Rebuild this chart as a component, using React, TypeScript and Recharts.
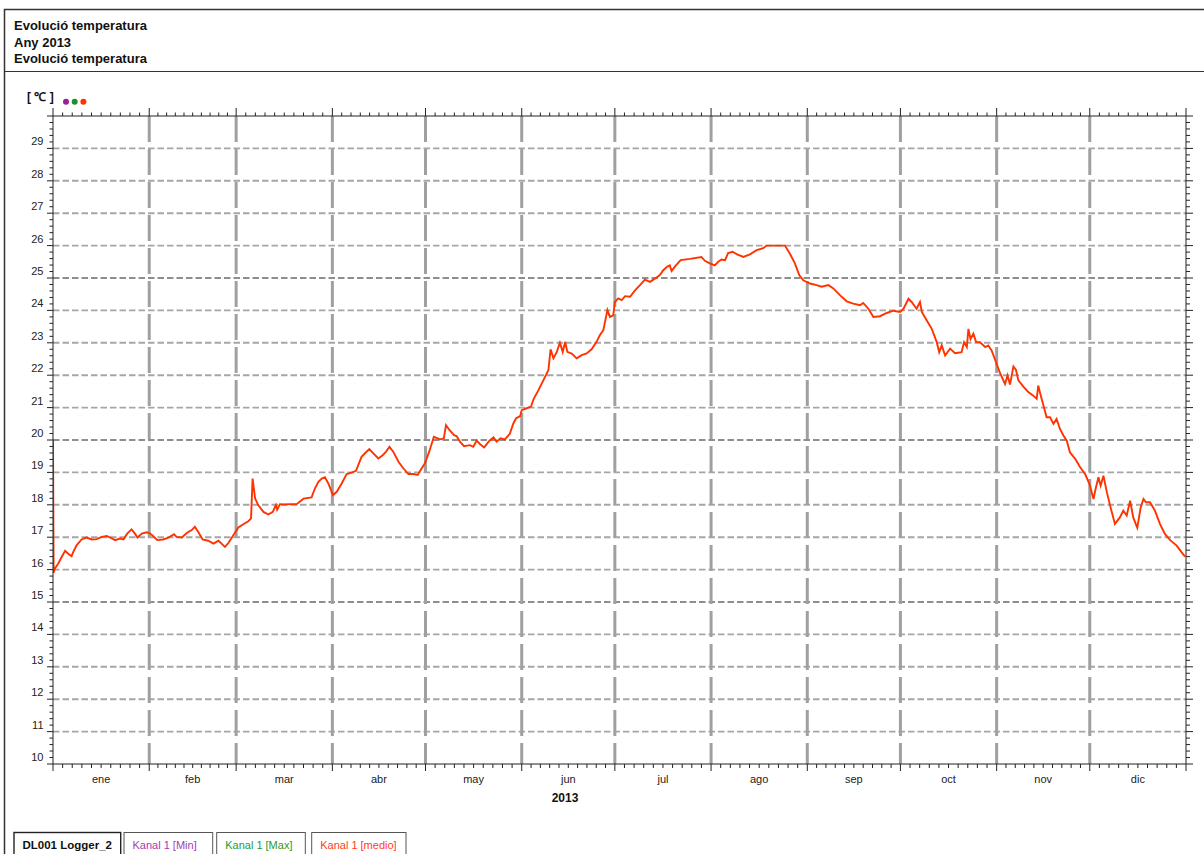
import React from 'react';
import { LineChart, Line, XAxis, YAxis, CartesianGrid } from 'recharts';

const FONT = '"Liberation Sans", Arial, Helvetica, sans-serif';

const titleLines = ['Evolució temperatura', 'Any 2013', 'Evolució temperatura'];
const monthNames = ['ene', 'feb', 'mar', 'abr', 'may', 'jun', 'jul', 'ago', 'sep', 'oct', 'nov', 'dic'];
const monthLengths = [31, 28, 31, 30, 31, 30, 31, 31, 30, 31, 30, 31];
const yearLabel = '2013';
const unitLabel = '[ ℃ ]';
const legendItems = ['DL001 Logger_2', 'Kanal 1 [Min]', 'Kanal 1 [Max]', 'Kanal 1 [medio]'];
const legendColors = ['#111111', '#a43bb3', '#2b9a2b', '#ff3b1f'];
const dotColors = ['#9a1f9a', '#1f8f2a', '#ff3300'];

// day of year (0..365) and mean temperature
const days = [
  0, 0.2, 0.6, 1.7, 2.8, 3.9, 4.9, 6.0, 6.4, 7.6, 9.2, 10.8, 12.5, 14.1, 15.7, 17.3, 18.4, 20.0, 21.6, 22.7,
  23.9, 25.3, 26.4, 27.2, 28.6, 30.2, 31.3, 32.3, 33.6, 35.5, 37.2, 39.0, 39.8, 41.5, 43.1, 44.7, 45.7, 46.8, 48.2, 50.0,
  51.7, 53.3, 54.3, 55.4, 56.5, 58.1, 59.7, 61.3, 62.9, 63.8, 64.3, 65.1, 66.1, 67.8, 69.4, 70.8, 71.8, 72.2, 73.1, 74.2,
  76.4, 78.5, 80.7, 83.3, 84.4, 85.5, 86.6, 87.6, 88.7, 90.2, 91.4, 93.0, 94.6, 96.2, 97.6, 99.4, 100.5, 101.9, 103.2, 104.8,
  106.2, 107.3, 108.4, 109.6, 111.3, 112.9, 114.5, 116.1, 117.5, 118.4, 119.8, 121.2, 122.7, 124.7, 125.9, 126.6, 127.7, 129.2, 130.0, 131.1,
  132.4, 134.3, 135.4, 136.5, 137.6, 138.9, 140.6, 141.9, 142.9, 144.2, 145.6, 147.2, 148.3, 149.2, 150.5, 151.0, 152.6, 154.0, 154.9, 156.4,
  158.0, 159.6, 160.3, 161.2, 162.3, 163.3, 164.2, 165.0, 165.7, 167.1, 168.7, 170.3, 171.9, 173.5, 175.1, 176.2, 177.3, 178.6, 179.4, 180.5,
  181.0, 182.1, 183.2, 184.3, 185.9, 187.5, 189.1, 190.7, 192.3, 193.9, 195.5, 196.6, 197.7, 198.7, 199.3, 200.4, 202.2, 205.2, 208.9, 210.0,
  211.6, 213.2, 214.3, 215.4, 216.5, 217.5, 218.9, 220.4, 222.4, 224.5, 226.7, 228.8, 229.9, 233.1, 235.8, 237.4, 239.0, 240.4, 241.7, 243.9,
  246.0, 247.6, 249.8, 251.4, 253.5, 255.7, 257.8, 260.0, 261.0, 262.6, 264.3, 266.4, 268.6, 270.7, 272.9, 274.0, 275.6, 276.6, 278.2, 279.3,
  279.9, 281.5, 283.1, 284.7, 285.5, 286.3, 287.4, 289.0, 290.6, 292.7, 293.5, 294.4, 294.9, 295.6, 296.5, 297.4, 298.6, 300.3, 301.3, 302.4,
  303.8, 305.1, 306.7, 307.5, 308.3, 309.4, 310.2, 311.0, 312.6, 314.2, 315.8, 316.9, 317.4, 318.2, 319.1, 320.1, 321.2, 322.3, 323.3, 324.4,
  325.5, 326.6, 327.6, 329.3, 330.9, 332.5, 333.9, 335.2, 336.0, 336.8, 337.5, 338.4, 339.5, 340.7, 342.1, 343.7, 344.8, 345.9, 347.0, 348.0,
  349.3, 350.4, 351.3, 352.1, 353.4, 355.0, 356.6, 358.2, 359.9, 362.0, 363.6, 364.7,
];
const temps = [
  20.0, 15.9, 16.03, 16.19, 16.39, 16.58, 16.49, 16.41, 16.52, 16.75, 16.93, 16.99, 16.93, 16.94, 17.01, 17.04, 16.99, 16.91, 16.96, 16.93,
  17.11, 17.24, 17.11, 16.99, 17.11, 17.15, 17.11, 17.03, 16.91, 16.93, 16.99, 17.09, 17.01, 16.99, 17.13, 17.22, 17.32, 17.16, 16.93, 16.89,
  16.8, 16.89, 16.8, 16.7, 16.82, 17.06, 17.3, 17.4, 17.49, 17.58, 18.81, 18.2, 17.99, 17.78, 17.7, 17.78, 17.99, 17.85, 18.02, 18.01,
  18.02, 18.02, 18.19, 18.23, 18.51, 18.71, 18.81, 18.85, 18.66, 18.3, 18.4, 18.66, 18.95, 18.99, 19.05, 19.48, 19.59, 19.72, 19.59, 19.43,
  19.53, 19.64, 19.79, 19.64, 19.33, 19.12, 18.95, 18.95, 18.92, 19.07, 19.28, 19.64, 20.1, 20.02, 20.05, 20.46, 20.31, 20.15, 20.12, 19.95,
  19.81, 19.84, 19.79, 19.98, 19.87, 19.77, 19.98, 20.08, 19.95, 20.05, 20.02, 20.2, 20.51, 20.67, 20.74, 20.92, 20.98, 21.03, 21.28, 21.54,
  21.85, 22.16, 22.8, 22.52, 22.72, 23.0, 22.72, 23.03, 22.72, 22.67, 22.52, 22.62, 22.67, 22.8, 23.03, 23.24, 23.39, 24.01, 23.8, 23.85,
  24.26, 24.37, 24.32, 24.44, 24.42, 24.62, 24.78, 24.95, 24.88, 24.98, 25.09, 25.24, 25.34, 25.39, 25.22, 25.36, 25.55, 25.59, 25.65, 25.53,
  25.45, 25.39, 25.5, 25.57, 25.55, 25.77, 25.81, 25.73, 25.65, 25.73, 25.86, 25.92, 26.0, 26.0, 26.0, 25.75, 25.45, 25.09, 24.93, 24.83,
  24.78, 24.73, 24.78, 24.68, 24.47, 24.28, 24.21, 24.16, 24.23, 24.06, 23.8, 23.82, 23.92, 23.99, 23.95, 24.05, 24.36, 24.26, 24.05, 24.26,
  23.95, 23.69, 23.43, 23.02, 22.71, 22.92, 22.61, 22.82, 22.68, 22.71, 23.02, 22.87, 23.43, 23.12, 23.28, 23.02, 23.02, 22.87, 22.92, 22.76,
  22.4, 22.06, 21.73, 21.99, 21.71, 22.27, 22.17, 21.84, 21.65, 21.48, 21.37, 21.27, 21.68, 21.37, 21.06, 20.7, 20.7, 20.5, 20.65, 20.34,
  20.14, 19.98, 19.62, 19.42, 19.16, 18.95, 18.64, 18.18, 18.54, 18.85, 18.59, 18.9, 18.39, 17.92, 17.41, 17.61, 17.82, 17.67, 18.13, 17.61,
  17.29, 17.92, 18.18, 18.08, 18.08, 17.82, 17.41, 17.1, 16.91, 16.74, 16.53, 16.4,
];

const data = days.map((d, i) => ({ day: d, temp: temps[i] }));

// x ticks: each month split in 10 minor steps
const keyOf = (v: number) => v.toFixed(3);
const monthStarts: number[] = [];
{
  let acc = 0;
  for (const len of monthLengths) {
    monthStarts.push(acc);
    acc += len;
  }
}
const yearLength = monthLengths.reduce((a, b) => a + b, 0);
const xTicks: number[] = [];
const xInfo = new Map<string, { major: boolean; label?: string }>();
monthLengths.forEach((len, m) => {
  for (let k = 0; k < 10; k++) {
    const v = monthStarts[m] + (k * len) / 10;
    xTicks.push(v);
    xInfo.set(keyOf(v), { major: k === 0, label: k === 5 ? monthNames[m] : undefined });
  }
});
xTicks.push(yearLength);
xInfo.set(keyOf(yearLength), { major: true });
const monthBoundaries = monthStarts.slice(1);

const yMin = 10;
const yMax = 30;
const yTicks: number[] = [];
for (let i = yMin * 5; i <= yMax * 5; i++) yTicks.push(Math.round(i * 2) / 10);
const isInt = (v: number) => Math.abs(v - Math.round(v)) < 1e-6;
const gridLight = yTicks.filter((v) => isInt(v) && v > yMin && v < yMax && Math.round(v) % 5 !== 0);
const gridDark = yTicks.filter((v) => isInt(v) && v > yMin && v < yMax && Math.round(v) % 5 === 0);

const AXIS = '#222';

const BottomTick = (props: any) => {
  const { x, y, payload } = props;
  const info = xInfo.get(keyOf(payload.value));
  const major = info?.major;
  return (
    <g>
      <line x1={x} x2={x} y1={y} y2={y + (major ? 7 : 4)} stroke={AXIS} strokeWidth={1} />
      {info?.label ? (
        <text x={x} y={y + 19} textAnchor="middle" fontSize={11} fill="#222" fontFamily={FONT}>
          {info.label}
        </text>
      ) : null}
    </g>
  );
};

const TopTick = (props: any) => {
  const { x, y, payload } = props;
  const info = xInfo.get(keyOf(payload.value));
  const major = info?.major;
  return <line x1={x} x2={x} y1={y} y2={y - (major ? 8 : 3.5)} stroke={AXIS} strokeWidth={1} />;
};

const LeftTick = (props: any) => {
  const { x, y, payload } = props;
  const v = payload.value;
  const major = isInt(v);
  return (
    <g>
      <line x1={x - (major ? 6 : 3.5)} x2={x} y1={y} y2={y} stroke={AXIS} strokeWidth={1} />
      {major && v < yMax ? (
        <text x={x - 9.5} y={y - 3} textAnchor="end" fontSize={11} fill="#222" fontFamily={FONT}>
          {Math.round(v)}
        </text>
      ) : null}
    </g>
  );
};

const RightTick = (props: any) => {
  const { x, y, payload } = props;
  const major = isInt(payload.value);
  return <line x1={x} x2={x + (major ? 7 : 4)} y1={y} y2={y} stroke={AXIS} strokeWidth={1} />;
};

const legendBoxes = [
  { x: 14, w: 106.7 },
  { x: 124, w: 88.7 },
  { x: 216.7, w: 88.6 },
  { x: 311.7, w: 94.3 },
];

export default function App() {
  return (
    <div
      style={{
        position: 'absolute',
        left: 0,
        top: 0,
        width: 1204,
        height: 854,
        overflow: 'hidden',
        background: '#fff',
        fontFamily: FONT,
      }}
    >
      <div style={{ position: 'absolute', left: 0, top: 0 }}>
        <LineChart width={1204} height={854} data={data} margin={{ top: 106, right: 0, bottom: 60, left: 8 }}>
          <CartesianGrid
            xAxisId="b"
            yAxisId="l"
            vertical={false}
            horizontalValues={gridLight}
            stroke="#a6a6a6"
            strokeWidth={1.9}
            strokeDasharray="6.5 3"
          />
          <CartesianGrid
            xAxisId="b"
            yAxisId="l"
            vertical={false}
            horizontalValues={gridDark}
            stroke="#8e8e8e"
            strokeWidth={1.9}
            strokeDasharray="6.5 3"
          />
          <CartesianGrid
            xAxisId="b"
            yAxisId="l"
            horizontal={false}
            verticalValues={monthBoundaries}
            stroke="#a0a0a0"
            strokeWidth={3}
            strokeDasharray="26 7"
          />
          <XAxis
            xAxisId="b"
            dataKey="day"
            type="number"
            domain={[0, yearLength]}
            allowDataOverflow
            ticks={xTicks}
            interval={0}
            tick={<BottomTick />}
            tickLine={false}
            tickSize={0}
            tickMargin={0}
            height={30}
            axisLine={{ stroke: AXIS, strokeWidth: 1 }}
          />
          <XAxis
            xAxisId="t"
            orientation="top"
            dataKey="day"
            type="number"
            domain={[0, yearLength]}
            allowDataOverflow
            ticks={xTicks}
            interval={0}
            tick={<TopTick />}
            tickLine={false}
            tickSize={0}
            tickMargin={0}
            height={10}
            axisLine={{ stroke: AXIS, strokeWidth: 1 }}
          />
          <YAxis
            yAxisId="l"
            type="number"
            domain={[yMin, yMax]}
            allowDataOverflow
            ticks={yTicks}
            interval={0}
            tick={<LeftTick />}
            tickLine={false}
            tickSize={0}
            tickMargin={0}
            width={45}
            axisLine={{ stroke: AXIS, strokeWidth: 1 }}
          />
          <YAxis
            yAxisId="r"
            orientation="right"
            type="number"
            domain={[yMin, yMax]}
            allowDataOverflow
            ticks={yTicks}
            interval={0}
            tick={<RightTick />}
            tickLine={false}
            tickSize={0}
            tickMargin={0}
            width={18}
            axisLine={{ stroke: AXIS, strokeWidth: 1 }}
          />
          <Line
            xAxisId="b"
            yAxisId="l"
            dataKey="temp"
            type="linear"
            stroke="#ff3300"
            strokeWidth={1.9}
            dot={false}
            isAnimationActive={false}
          />
        </LineChart>
      </div>
      <svg
        width={1204}
        height={854}
        style={{ position: 'absolute', left: 0, top: 0, pointerEvents: 'none' }}
        fontFamily={FONT}
      >
        <path d="M4.5 860 V9.5 H1210" fill="none" stroke="#333" strokeWidth={1.5} />
        <line x1={4.5} x2={1210} y1={71.5} y2={71.5} stroke="#333" strokeWidth={1.2} />
        {titleLines.map((t, i) => (
          <text key={i} x={14} y={30 + i * 16.5} fontSize={13} fontWeight="bold" fill="#111">
            {t}
          </text>
        ))}
        <text x={27} y={101} fontSize={12} fontWeight="bold" fill="#111">
          {unitLabel}
        </text>
        {dotColors.map((c, i) => (
          <circle key={i} cx={66 + i * 8.7} cy={101.7} r={3} fill={c} />
        ))}
        <text x={565} y={802} fontSize={12} fontWeight="bold" textAnchor="middle" fill="#111">
          {yearLabel}
        </text>
        {legendItems.map((t, i) => (
          <g key={i}>
            <rect
              x={legendBoxes[i].x}
              y={832.5}
              width={legendBoxes[i].w}
              height={30}
              fill="#fff"
              stroke={i === 0 ? '#222' : '#555'}
              strokeWidth={i === 0 ? 1.4 : 1}
            />
            <text
              x={legendBoxes[i].x + 8.5}
              y={849.3}
              fontSize={i === 0 ? 11.5 : 11}
              fontWeight={i === 0 ? 'bold' : 'normal'}
              fill={legendColors[i]}
            >
              {t}
            </text>
          </g>
        ))}
      </svg>
    </div>
  );
}
